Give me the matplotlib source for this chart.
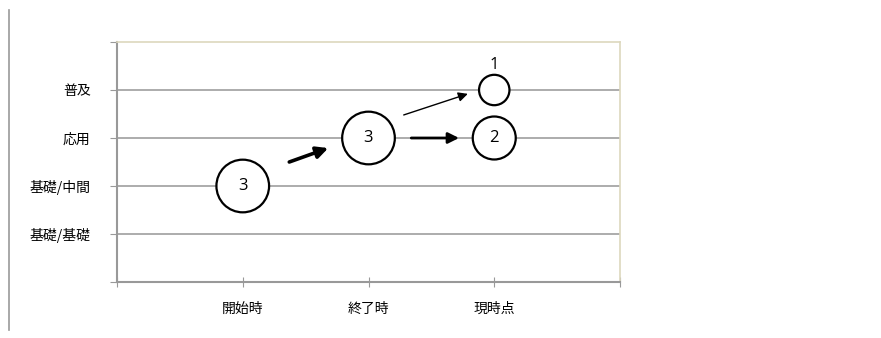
import matplotlib.pyplot as plt
import numpy as np
from matplotlib.lines import Line2D

plt.rcParams['font.family'] = ['Noto Sans CJK JP', 'DejaVu Sans']

# data
categories = ['開始時', '終了時', '現時点']
level_labels = ['基礎/基礎', '基礎/中間', '応用', '普及']
bubble_x = [1, 2, 3, 3]
bubble_y = [2, 3, 3, 4]
bubble_n = [3, 3, 2, 1]

# arrows (data coords): start, end, line width
arrows = [
    ((1.37, 2.50), (1.68, 2.79), 2.6),
    ((2.34, 3.00), (2.72, 3.00), 2.0),
    ((2.28, 3.48), (2.79, 3.92), 1.0),
]

fig = plt.figure(figsize=(8.81, 3.38), dpi=100)
ax = fig.add_axes([117 / 881, 56 / 338, 503 / 881, 240 / 338])

ax.set_xlim(0, 4)
ax.set_ylim(0, 5)

# gridlines
for y in range(1, 5):
    ax.axhline(y, color='#A6A6A6', lw=1.3, zorder=1)

# bubbles: area proportional to count, radius ~15px for 1
radius_px = 15.2 * np.sqrt(np.array(bubble_n))
sizes = (radius_px * 2 * 72 / 100) ** 2
ax.scatter(bubble_x, bubble_y, s=sizes, facecolors='white', edgecolors='black',
           linewidths=1.6, zorder=3)

for x, y, n in zip(bubble_x, bubble_y, bubble_n):
    if n == 1:
        ax.text(x, y + 0.53, str(n), ha='center', va='center', fontsize=12,
                family='Open Sans', zorder=4)
    else:
        ax.text(x, y, str(n), ha='center', va='center', fontsize=12,
                family='Open Sans', zorder=4)

for (x0, y0), (x1, y1), lw in arrows:
    ax.annotate('', xy=(x1, y1), xytext=(x0, y0),
                arrowprops=dict(arrowstyle='-|>', color='black', lw=lw,
                                mutation_scale=12 + 2 * lw, shrinkA=0, shrinkB=0),
                zorder=4)

ax.set_xticks(range(0, 5))
ax.set_xticklabels([''] + categories + [''], fontsize=10)
ax.set_yticks(range(0, 6))
ax.set_yticklabels([''] + level_labels + [''], fontsize=10)
ax.tick_params(axis='x', direction='inout', length=7, color='#999999', pad=11)
ax.tick_params(axis='y', direction='out', length=5, color='#999999', pad=14)

for side in ['left', 'bottom']:
    ax.spines[side].set_color('#999999')
    ax.spines[side].set_linewidth(1.5)
for side in ['top', 'right']:
    ax.spines[side].set_color('#DDD8BE')
    ax.spines[side].set_linewidth(1.2)

# left frame line
fig.add_artist(Line2D([9 / 881, 9 / 881], [8 / 338, 328 / 338],
                      color='#999999', lw=1.2))

fig.savefig('out.png', dpi=100)
